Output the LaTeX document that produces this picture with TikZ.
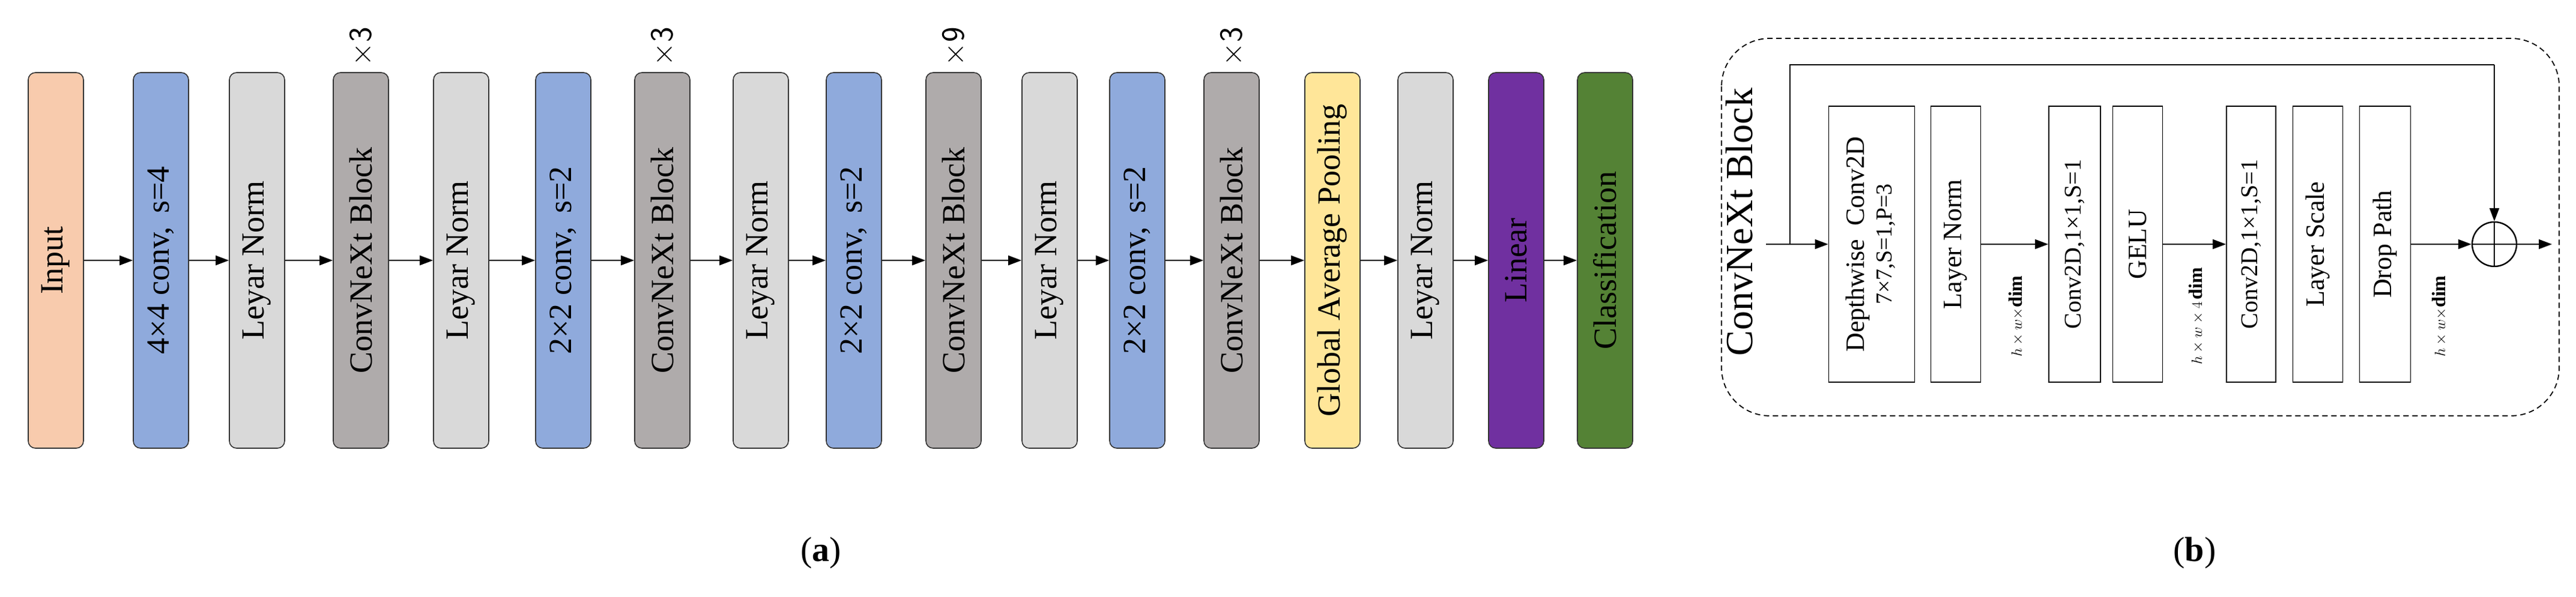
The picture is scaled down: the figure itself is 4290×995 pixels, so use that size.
\documentclass[tikz,border=0pt]{standalone}
\usepackage{fontspec}
\setmainfont{Liberation Serif}
\usetikzlibrary{arrows.meta}
\definecolor{cin}{HTML}{F8CBAD}
\definecolor{cblue}{HTML}{8FAADC}
\definecolor{clg}{HTML}{D9D9D9}
\definecolor{cdg}{HTML}{AFABAB}
\definecolor{cyel}{HTML}{FFE699}
\definecolor{cpur}{HTML}{7030A0}
\definecolor{cgrn}{HTML}{548235}
\begin{document}
\begin{tikzpicture}[x=1pt,y=-1pt,
  blk/.style={draw=black!80,line width=1.6pt,rounded corners=12pt,minimum width=92pt,minimum height=626pt,inner sep=0pt,font=\fontsize{54}{60}\selectfont},
  bb/.style={draw,line width=1.8pt,minimum height=460pt,inner sep=0pt,font=\fontsize{44}{50}\selectfont},
  arr/.style={line width=2pt,-{Triangle[length=22pt,width=16pt]}},
  rep/.style={font=\fontsize{54}{60}\selectfont\sffamily},
  dimt/.style={font=\fontsize{32}{36}\selectfont}]
\useasboundingbox (0,0) rectangle (4290,995);
% (a)
\node[blk,fill=cin] (a1) at (93,434) {\rotatebox{90}{Input}};
\node[blk,fill=cblue] (a2) at (268,434) {\rotatebox{90}{4×4 conv,\hspace{22pt}s=4}};
\node[blk,fill=clg] (a3) at (428,434) {\rotatebox{90}{Leyar Norm}};
\node[blk,fill=cdg] (a4) at (601,434) {\rotatebox{90}{ConvNeXt Block}};
\node[blk,fill=clg] (a5) at (768,434) {\rotatebox{90}{Leyar Norm}};
\node[blk,fill=cblue] (a6) at (938,434) {\rotatebox{90}{2×2 conv,\hspace{22pt}s=2}};
\node[blk,fill=cdg] (a7) at (1103,434) {\rotatebox{90}{ConvNeXt Block}};
\node[blk,fill=clg] (a8) at (1267,434) {\rotatebox{90}{Leyar Norm}};
\node[blk,fill=cblue] (a9) at (1422,434) {\rotatebox{90}{2×2 conv,\hspace{22pt}s=2}};
\node[blk,fill=cdg] (a10) at (1588,434) {\rotatebox{90}{ConvNeXt Block}};
\node[blk,fill=clg] (a11) at (1748,434) {\rotatebox{90}{Leyar Norm}};
\node[blk,fill=cblue] (a12) at (1894,434) {\rotatebox{90}{2×2 conv,\hspace{22pt}s=2}};
\node[blk,fill=cdg] (a13) at (2051,434) {\rotatebox{90}{ConvNeXt Block}};
\node[blk,fill=cyel] (a14) at (2219,434) {\rotatebox{90}{Global Average Pooling}};
\node[blk,fill=clg] (a15) at (2374,434) {\rotatebox{90}{Leyar Norm}};
\node[blk,fill=cpur] (a16) at (2525,434) {\rotatebox{90}{Linear}};
\node[blk,fill=cgrn] (a17) at (2673,434) {\rotatebox{90}{Classification}};
\foreach \i [evaluate=\i as \j using int(\i+1)] in {1,...,16}
  \draw[arr] (a\i.east) -- (a\j.west);
\node[rep] (r1) at (601,78) {\rotatebox{90}{×3}};
\node[rep] (r2) at (1103,78) {\rotatebox{90}{×3}};
\node[rep] (r3) at (1588,78) {\rotatebox{90}{×9}};
\node[rep] (r4) at (2051,78) {\rotatebox{90}{×3}};
\node[font=\fontsize{58}{60}\selectfont] (la) at (1367,922) {(\textbf{a})};
% (b)
\draw[dashed,line width=1.8pt,rounded corners=80pt,dash pattern=on 9pt off 6pt] (2867,64) rectangle (4262,693);
\node[font=\fontsize{64}{70}\selectfont] (bt) at (2897,370) {\rotatebox{90}{ConvNeXt Block}};
\node[bb,minimum width=143pt] (b1) at (3117,407) {\rotatebox{90}{\begin{tabular}{@{}c@{}}Depthwise\ \ Conv2D\\[-4pt]{\fontsize{38}{40}\selectfont 7×7,S=1,P=3}\end{tabular}}};
\node[bb,minimum width=83pt] (b2) at (3257,407) {\rotatebox{90}{Layer Norm}};
\node[bb,minimum width=86pt] (b3) at (3455,407) {\rotatebox{90}{\fontsize{40}{44}\selectfont Conv2D,1×1,S=1}};
\node[bb,minimum width=83pt] (b4) at (3560,407) {\rotatebox{90}{GELU}};
\node[bb,minimum width=82pt] (b5) at (3749,407) {\rotatebox{90}{\fontsize{40}{44}\selectfont Conv2D,1×1,S=1}};
\node[bb,minimum width=83pt] (b6) at (3860,407) {\rotatebox{90}{Layer Scale}};
\node[bb,minimum width=85pt] (b7) at (3972,407) {\rotatebox{90}{Drop Path}};
\node[draw,circle,line width=2.4pt,minimum size=74pt,inner sep=0pt] (add) at (4154,407) {};
\draw[line width=2.4pt] (add.north) -- (add.south) (add.west) -- (add.east);
\coordinate (in) at (2941,407);
\coordinate (sk) at (2981,407);
\coordinate (out) at (4250,407);
\draw[arr] (in) -- (b1.west);
\draw[line width=2pt] (sk) |- (4154,108) coordinate (sc);
\draw[arr] (sc) -- (add.north);
\draw[arr] (b2.east) -- (b3.west);
\draw[arr] (b4.east) -- (b5.west);
\draw[arr] (b7.east) -- (add.west);
\draw[arr] (add.east) -- (out);
\node[dimt] (d1) at (3357,527) {\rotatebox{90}{$h\times w\times$\textbf{dim}}};
\node[dimt] (d2) at (3657,527) {\rotatebox{90}{$h\times w\times 4\,$\textbf{dim}}};
\node[dimt] (d3) at (4062,527) {\rotatebox{90}{$h\times w\times$\textbf{dim}}};
\node[font=\fontsize{58}{60}\selectfont] (lb) at (3655,922) {(\textbf{b})};
\end{tikzpicture}
\end{document}
